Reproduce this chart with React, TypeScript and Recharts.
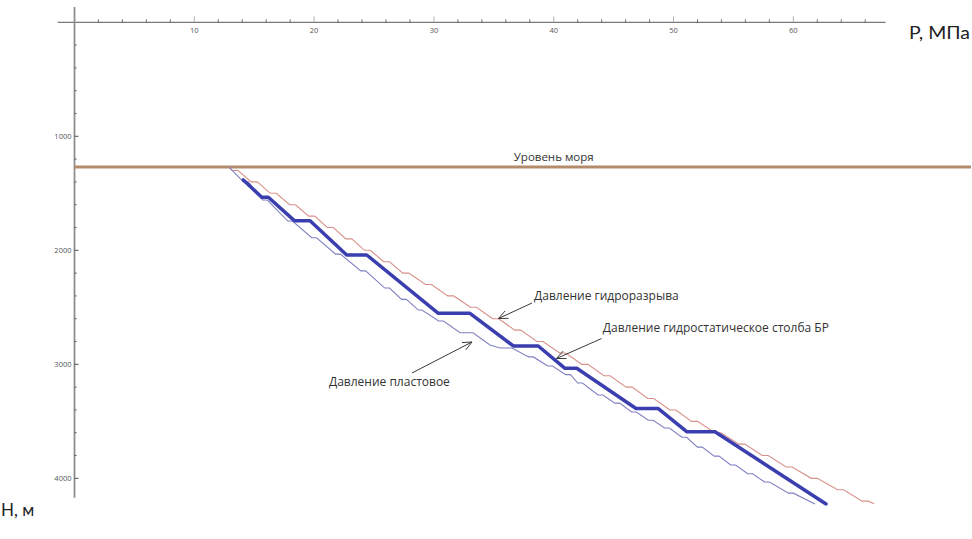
import React from 'react';
import { LineChart, Line, XAxis, YAxis, ReferenceLine, ReferenceDot } from 'recharts';

// ---- axis ticks ----
const xTicks = [2, 4, 6, 8, 10, 12, 14, 16, 18, 20, 22, 24, 26, 28, 30, 32, 34, 36, 38, 40, 42, 44, 46, 48, 50, 52, 54, 56, 58, 60, 62, 64, 66];
const yTicks = [200, 400, 600, 800, 1000, 1200, 1400, 1600, 1800, 2000, 2200, 2400, 2600, 2800, 3000, 3200, 3400, 3600, 3800, 4000];

// ---- levels ----
const seaLevelDepth = 1270;
const axisDepthEnd = 4170;
const axisPressureEnd = 67.7;

// ---- series: [pressure MPa, depth m] ----
const fracturePts: [number, number][] = [
  [12.9, 1270], [13.15, 1300], [13.65, 1300], [14.75, 1400], [15.25, 1400], [16.35, 1500], [16.85, 1500],
  [17.95, 1600], [18.45, 1600], [19.55, 1700], [20.05, 1700], [21.1, 1800], [21.6, 1800], [22.65, 1900],
  [23.15, 1900], [24.2, 2000], [24.7, 2000], [25.8, 2100], [26.3, 2100], [27.4, 2200], [27.9, 2200],
  [29.3, 2300], [29.8, 2300], [31.15, 2400], [31.65, 2400], [33.05, 2500], [33.55, 2500], [34.9, 2600],
  [35.4, 2600], [36.75, 2700], [37.25, 2700], [38.6, 2800], [39.1, 2800], [40.5, 2900], [41.0, 2900],
  [42.35, 3000], [42.85, 3000], [44.2, 3100], [44.7, 3100], [46.05, 3200], [46.55, 3200], [47.85, 3300],
  [48.35, 3300], [49.7, 3400], [50.2, 3400], [51.5, 3500], [52.0, 3500], [53.45, 3600], [53.95, 3600],
  [55.45, 3700], [55.95, 3700], [57.4, 3800], [57.9, 3800], [59.4, 3900], [59.9, 3900], [61.5, 4000],
  [62.0, 4000], [63.7, 4100], [64.2, 4100], [65.75, 4200], [66.25, 4200], [66.75, 4222],
];

const mudPts: [number, number][] = [
  [14.09, 1383], [15.63, 1535], [16.18, 1535], [18.35, 1740], [19.66, 1740], [22.72, 2041], [24.39, 2041],
  [30.37, 2553], [33.01, 2553], [36.63, 2839], [38.71, 2839], [40.94, 3035], [41.92, 3035], [46.87, 3388],
  [48.73, 3388], [51.1, 3591], [53.46, 3591], [62.73, 4225],
];

const formationPts: [number, number][] = [
  [12.9, 1270], [14.1, 1400], [14.5, 1400], [15.7, 1559], [16.1, 1559], [17.8, 1743], [18.2, 1743],
  [19.8, 1890], [20.2, 1890], [21.8, 2033], [22.2, 2033], [23.9, 2180], [24.3, 2180], [25.9, 2331],
  [26.3, 2331], [27.3, 2430], [27.7, 2430], [28.7, 2524], [29.0, 2524], [30.4, 2620], [30.8, 2620],
  [32.18, 2723], [33.26, 2723], [34.68, 2831], [35.52, 2857], [36.52, 2857], [37.9, 2935], [38.3, 2935],
  [39.5, 3015], [39.9, 3015], [41.0, 3090], [41.4, 3090], [42.0, 3164], [42.4, 3164], [43.7, 3269],
  [44.1, 3269], [45.1, 3340], [45.5, 3340], [46.5, 3418], [46.9, 3418], [47.9, 3490], [48.3, 3490],
  [49.25, 3559], [49.65, 3559], [50.7, 3640], [51.1, 3640], [52.0, 3726], [52.4, 3726], [53.4, 3805],
  [53.8, 3805], [54.77, 3883], [55.17, 3883], [56.2, 3960], [56.6, 3960], [57.6, 4032], [58.0, 4032],
  [59.6, 4130], [60.0, 4130], [61.81, 4225],
];

// ---- annotations ----
const seaLabel = { text: 'Уровень моря', p: 40.0, h: 1217 };
const notes = [
  { text: 'Давление гидроразрыва', p: 38.36, h: 2436, from: [38.19, 2462], to: [35.39, 2598] },
  { text: 'Давление гидростатическое столба БР', p: 44.1, h: 2717, from: [43.99, 2774], to: [40.23, 2949] },
  { text: 'Давление пластовое', p: 21.24, h: 3190, from: [28.17, 3076], to: [33.18, 2804] },
];

const toRows = (pts: [number, number][]) => pts.map(([p, h]) => ({ p, h }));
const fractureData = toRows(fracturePts);
const mudData = toRows(mudPts);
const formationData = toRows(formationPts);

const tickFont = "'Open Sans', 'DejaVu Sans', sans-serif";

function XTick(props: any) {
  const { x, y, payload } = props;
  const v = payload.value;
  const major = v % 10 === 0;
  return (
    <g>
      <line x1={x} x2={x} y1={y} y2={y - (major ? 6 : 3)} stroke={major ? '#b0b0b0' : '#707070'} strokeWidth={1} />
      {major && (
        <text x={x} y={y + 11} textAnchor="middle" fontSize={7.5} fill="#555" fontFamily={tickFont}>
          {v}
        </text>
      )}
    </g>
  );
}

function YTick(props: any) {
  const { x, y, payload } = props;
  const v = payload.value;
  const major = v % 1000 === 0;
  return (
    <g>
      <line x1={x} x2={x + (major ? 4 : 2)} y1={y} y2={y} stroke="#555" strokeWidth={1} />
      {major && (
        <text x={x - 3} y={y + 2.6} textAnchor="end" fontSize={7.5} fill="#555" fontFamily={tickFont}>
          {v}
        </text>
      )}
    </g>
  );
}

const arrowShape = (p: any) => {
  const { x1, y1, x2, y2 } = p;
  const ang = Math.atan2(y2 - y1, x2 - x1);
  const L = 10;
  const a = 0.42;
  const ax = x2 - L * Math.cos(ang - a);
  const ay = y2 - L * Math.sin(ang - a);
  const bx = x2 - L * Math.cos(ang + a);
  const by = y2 - L * Math.sin(ang + a);
  return (
    <g>
      <line x1={x1} y1={y1} x2={x2} y2={y2} stroke="#3a3a3a" strokeWidth={1} />
      <polyline points={`${ax},${ay} ${x2},${y2} ${bx},${by}`} fill="none" stroke="#3a3a3a" strokeWidth={1} />
    </g>
  );
};

const noteFont = "'Open Sans', 'DejaVu Sans', sans-serif";

export default function App() {
  return (
    <div style={{ position: 'absolute', left: 0, top: 0, width: 972, height: 539, background: '#fff' }}>
      <LineChart width={972} height={539} margin={{ top: 21.3, right: 1, bottom: 33.3, left: 73.5 }}>
        <XAxis
          type="number"
          dataKey="p"
          orientation="top"
          domain={[0, 74.83]}
          allowDataOverflow
          ticks={xTicks}
          interval={0}
          tick={(p: any) => <XTick {...p} />}
          tickLine={false}
          axisLine={false}
          tickSize={0}
          tickMargin={0}
          height={1}
        />
        <YAxis
          type="number"
          domain={[0, 4240]}
          reversed
          allowDataOverflow
          ticks={yTicks}
          interval={0}
          tick={(p: any) => <YTick {...p} />}
          tickLine={false}
          axisLine={false}
          tickSize={0}
          tickMargin={0}
          width={1}
        />
        <ReferenceLine segment={[{ x: -1.4, y: 0 }, { x: axisPressureEnd, y: 0 }]} stroke="#7a7a7a" strokeWidth={1.2} ifOverflow="visible" />
        <ReferenceLine segment={[{ x: 0, y: -135 }, { x: 0, y: axisDepthEnd }]} stroke="#8e8e8e" strokeWidth={1.8} ifOverflow="visible" />
        <ReferenceLine segment={[{ x: 0, y: seaLevelDepth }, { x: 74.83, y: seaLevelDepth }]} stroke="#b48c6c" strokeWidth={3} ifOverflow="visible" />
        <Line data={fractureData} dataKey="h" type="linear" stroke="#d8908a" strokeWidth={1.1} dot={false} isAnimationActive={false} />
        <Line data={formationData} dataKey="h" type="linear" stroke="#7f80c2" strokeWidth={1.1} dot={false} isAnimationActive={false} />
        <Line data={mudData} dataKey="h" type="linear" stroke="#3a3eae" strokeWidth={3.5} strokeLinecap="round" strokeLinejoin="round" dot={false} isAnimationActive={false} />
        <ReferenceDot
          x={seaLabel.p}
          y={seaLabel.h}
          r={0}
          shape={(p: any) => (
            <text x={p.cx} y={p.cy} textAnchor="middle" fontSize={11.5} fill="#333" fontFamily={noteFont}>
              {seaLabel.text}
            </text>
          )}
        />
        {notes.map((n) => (
          <ReferenceDot
            key={n.text}
            x={n.p}
            y={n.h}
            r={0}
            shape={(p: any) => (
              <text x={p.cx} y={p.cy} textAnchor="start" fontSize={12} fill="#333" fontFamily={noteFont}>
                {n.text}
              </text>
            )}
          />
        ))}
        {notes.map((n) => (
          <ReferenceLine
            key={'a' + n.text}
            segment={[{ x: n.from[0], y: n.from[1] }, { x: n.to[0], y: n.to[1] }]}
            ifOverflow="visible"
            shape={arrowShape}
          />
        ))}
      </LineChart>
      <svg width={972} height={539} style={{ position: 'absolute', left: 0, top: 0, pointerEvents: 'none' }}>
        <text x={909} y={39} fontSize={17} textLength={61} lengthAdjust="spacingAndGlyphs" fill="#222" fontFamily="Lato, 'Open Sans', sans-serif">P, МПа</text>
        <text x={1} y={516} fontSize={17} fill="#222" fontFamily="Lato, 'Open Sans', sans-serif">Н, м</text>
      </svg>
    </div>
  );
}
